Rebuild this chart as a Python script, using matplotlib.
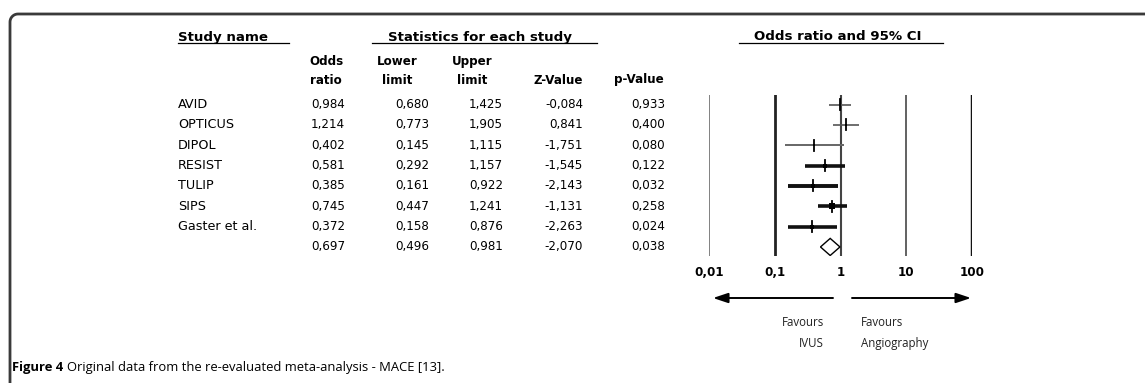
import matplotlib
matplotlib.use("Agg")
import matplotlib.pyplot as plt
from matplotlib.patches import Polygon
import numpy as np

studies = ["AVID", "OPTICUS", "DIPOL", "RESIST", "TULIP", "SIPS", "Gaster et al.", ""]
odds = [0.984, 1.214, 0.402, 0.581, 0.385, 0.745, 0.372, 0.697]
lower = [0.680, 0.773, 0.145, 0.292, 0.161, 0.447, 0.158, 0.496]
upper = [1.425, 1.905, 1.115, 1.157, 0.922, 1.241, 0.876, 0.981]
zval = [-0.084, 0.841, -1.751, -1.545, -2.143, -1.131, -2.263, -2.070]
pval = [0.933, 0.400, 0.080, 0.122, 0.032, 0.258, 0.024, 0.038]
ci_width = [1.2, 1.2, 1.4, 2.6, 2.8, 2.6, 2.6]
ci_color = ["#555555", "#555555", "#666666", "#111111", "#111111", "#111111", "#111111"]
box_size = [0, 1.5, 1.5, 3.5, 3.0, 4.0, 3.0]
ticks = [0.01, 0.1, 1, 10, 100]
tick_labels = ["0,01", "0,1", "1", "10", "100"]
ref_widths = [1.3, 2.0, 1.5, 1.3, 2.5]
ref_colors = ["#777777", "#222222", "#444444", "#555555", "#111111"]

W, H = 1145, 383
fig = plt.figure(figsize=(W / 100, H / 100), dpi=100)
bg = fig.add_axes([0, 0, 1, 1])
bg.set_xlim(0, W)
bg.set_ylim(H, 0)
bg.axis("off")

FONT = "DejaVu Sans"
fs = 8.6

def fmt(v):
    return f"{v:.3f}".replace(".", ",")

# Frame
r = 8
frame_x = [W, 10 + r] + list(10 + r - r * np.sin(np.linspace(0, np.pi / 2, 10))) + [10, 10]
frame_y = [14, 14] + list(14 + r - r * np.cos(np.linspace(0, np.pi / 2, 10))) + [14 + r, H]
bg.plot(frame_x, frame_y, color="#3a3a3a", lw=2.0, solid_capstyle="butt")

# Headers
hy = 37
hfs = 9.6
bg.text(178, hy, "Study name", fontsize=hfs, fontweight="bold", family=FONT, va="center", ha="left")
bg.plot([178, 289], [hy + 6, hy + 6], color="black", lw=0.9)
bg.text(388, hy, "Statistics for each study", fontsize=hfs, fontweight="bold", family=FONT, va="center", ha="left")
bg.plot([372, 597], [hy + 6, hy + 6], color="black", lw=0.9)
bg.text(754, hy, "Odds ratio and 95% CI", fontsize=hfs, fontweight="bold", family=FONT, va="center", ha="left")
bg.plot([739, 943], [hy + 6, hy + 6], color="black", lw=0.9)

cfs_h = 8.6
cols_x = [345, 429, 503, 583, 665]
bg.text(326, 71, "Odds\nratio", fontsize=cfs_h, fontweight="bold", family=FONT, va="center", ha="center", linespacing=1.55)
bg.text(397, 71, "Lower\nlimit", fontsize=cfs_h, fontweight="bold", family=FONT, va="center", ha="center", linespacing=1.55)
bg.text(472, 71, "Upper\nlimit", fontsize=cfs_h, fontweight="bold", family=FONT, va="center", ha="center", linespacing=1.55)
bg.text(583, 80, "Z-Value", fontsize=cfs_h, fontweight="bold", family=FONT, va="center", ha="right")
bg.text(664, 80, "p-Value", fontsize=cfs_h, fontweight="bold", family=FONT, va="center", ha="right")

y0, dy = 104.5, 20.35
for i, name in enumerate(studies):
    y = y0 + dy * i
    if name:
        bg.text(178, y, name, fontsize=9.2, family=FONT, va="center", ha="left")
    vals = [odds[i], lower[i], upper[i], zval[i], pval[i]]
    for cx, v in zip(cols_x, vals):
        bg.text(cx, y, fmt(v), fontsize=fs, family=FONT, va="center", ha="right")

# Forest axes
x_left, x_right = 709, 972
top_px, bot_px = 95, 256
ax = fig.add_axes([x_left / W, 1 - bot_px / H, (x_right - x_left) / W, (bot_px - top_px) / H])
ax.set_xscale("log")
ax.set_xlim(0.01, 100)
ax.set_ylim((bot_px - y0) / dy, (top_px - y0) / dy)
ax.axis("off")
for t, lw_, c in zip(ticks, ref_widths, ref_colors):
    ax.axvline(t, color=c, lw=lw_)
for i in range(7):
    ax.plot([lower[i], upper[i]], [i, i], color=ci_color[i], lw=ci_width[i], solid_capstyle="butt")
    ax.plot([odds[i], odds[i]], [i - 0.27, i + 0.27], color="black", lw=1.3)
    if box_size[i] > 0:
        ax.plot([odds[i]], [i], marker="s", ms=box_size[i], color="black", mew=0)
s = 7
diamond = Polygon([[lower[s], s], [odds[s], s - 0.42], [upper[s], s], [odds[s], s + 0.42]],
                  closed=True, facecolor="white", edgecolor="black", lw=1.0, zorder=5)
ax.add_patch(diamond)

# Tick labels
for t, lab in zip(ticks, tick_labels):
    px = x_left + (np.log10(t) + 2) / 4 * (x_right - x_left)
    bg.text(px, 273, lab, fontsize=fs, fontweight="bold", family=FONT, va="center", ha="center")

# Arrows
bg.annotate("", xy=(713, 298), xytext=(833, 298),
            arrowprops=dict(arrowstyle="-|>,head_length=0.9,head_width=0.3", color="black", lw=1.4, shrinkA=0, shrinkB=0))
bg.annotate("", xy=(971, 298), xytext=(852, 298),
            arrowprops=dict(arrowstyle="-|>,head_length=0.9,head_width=0.3", color="black", lw=1.4, shrinkA=0, shrinkB=0))

bg.text(824, 333, "Favours\nIVUS", fontsize=8.3, family="Open Sans", va="center", ha="right", linespacing=1.75, color="#222222")
bg.text(861, 333, "Favours\nAngiography", fontsize=8.3, family="Open Sans", va="center", ha="left", linespacing=1.75, color="#222222")

# Caption
cfs = 9.4
t1 = bg.text(12, 368, "Figure 4", fontsize=cfs, fontweight="bold", family="Open Sans", va="center", ha="left")
fig.canvas.draw()
bb = t1.get_window_extent()
bg.text(bb.x1 + 4, 368, "Original data from the re-evaluated meta-analysis - MACE [13].", fontsize=cfs,
        family="Open Sans", va="center", ha="left")

fig.savefig("out.png", dpi=100)
